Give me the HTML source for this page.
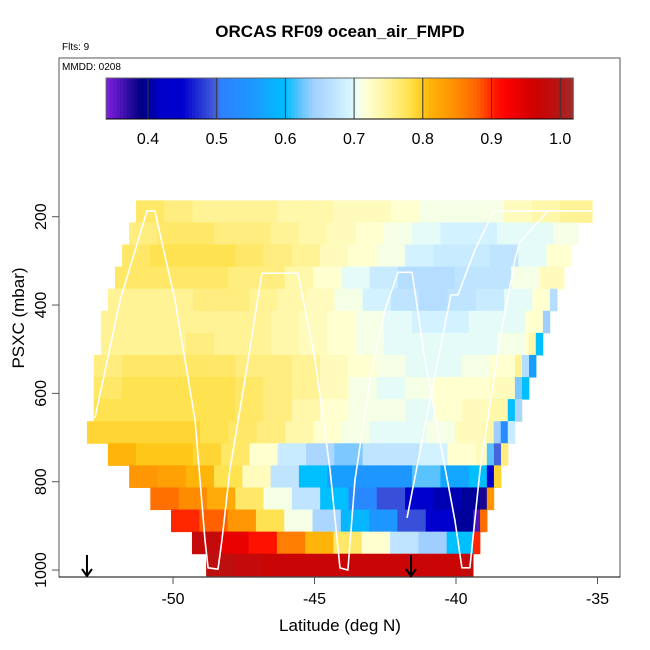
<!DOCTYPE html>
<html><head><meta charset="utf-8"><style>
html,body{margin:0;padding:0;background:#fff}
svg{display:block;font-family:"Liberation Sans",sans-serif}
</style></head><body>
<svg id="chart" width="650" height="650" viewBox="0 0 650 650" xmlns="http://www.w3.org/2000/svg">
<text x="340" y="37" text-anchor="middle" font-size="17" font-weight="bold">ORCAS RF09 ocean_air_FMPD</text>
<text x="62" y="50" font-size="10">Flts: 9</text>
<rect x="59" y="58" width="561" height="519" fill="none" stroke="#555" stroke-width="1"/>
<text x="62" y="70" font-size="10">MMDD: 0208</text>
<g id="cells"></g>
<g id="track"></g>
<g id="cbar"></g>
<g id="axes"></g>
<text x="340" y="631" text-anchor="middle" font-size="17">Latitude (deg N)</text>
<text transform="translate(24,318) rotate(-90)" text-anchor="middle" font-size="17">PSXC (mbar)</text>
</svg>
<script>
const rowTops=[163,213,263,313,363,413,463,513,563,613,663,713,763,813,863,913,963];
const rowLeft=[-51.31,-51.55,-51.8,-52.05,-52.3,-52.55,-52.55,-52.8,-52.8,-52.8,-53.04,-52.3,-51.55,-50.8,-50.07,-49.33,-48.83];
const rowRight=[-35.19,-35.69,-35.94,-36.18,-36.43,-36.68,-36.93,-37.17,-37.42,-37.67,-37.92,-38.16,-38.41,-38.66,-38.9,-39.15,-39.4];
const rowVals=[
[0.77,0.76,0.75,0.75,0.75,0.74,0.74,0.73,0.73,0.72,0.71,0.71,0.71,0.73,0.74,0.75,0.75],
[0.76,0.77,0.77,0.76,0.76,0.75,0.74,0.73,0.72,0.71,0.70,0.69,0.69,0.70,0.70,0.71,0.74],
[0.77,0.78,0.78,0.78,0.77,0.76,0.75,0.73,0.72,0.71,0.69,0.68,0.68,0.67,0.70,0.72,0.75],
[0.77,0.77,0.77,0.77,0.76,0.76,0.74,0.72,0.70,0.68,0.66,0.66,0.67,0.67,0.71,0.73,0.74],
[0.75,0.75,0.75,0.76,0.76,0.75,0.74,0.73,0.71,0.69,0.67,0.66,0.67,0.68,0.70,0.72,0.74],
[0.75,0.75,0.75,0.75,0.75,0.75,0.74,0.73,0.72,0.71,0.70,0.69,0.69,0.70,0.70,0.72,0.73],
[0.75,0.75,0.75,0.76,0.75,0.75,0.74,0.73,0.72,0.71,0.70,0.70,0.70,0.70,0.71,0.72],
[0.76,0.77,0.77,0.77,0.77,0.76,0.76,0.75,0.73,0.72,0.71,0.70,0.70,0.71,0.72,0.73],
[0.77,0.78,0.78,0.78,0.78,0.77,0.76,0.75,0.73,0.71,0.70,0.71,0.72,0.72,0.73,0.74],
[0.78,0.78,0.78,0.78,0.78,0.77,0.76,0.74,0.72,0.71,0.71,0.70,0.72,0.73,0.74,0.74],
[0.79,0.79,0.79,0.79,0.78,0.77,0.76,0.74,0.72,0.71,0.70,0.70,0.71,0.73,0.74,0.74],
[0.81,0.80,0.80,0.79,0.77,0.72,0.68,0.65,0.63,0.67,0.67,0.69,0.72,0.73],
[0.84,0.83,0.81,0.78,0.73,0.67,0.60,0.56,0.55,0.55,0.62,0.57,0.60],
[0.87,0.85,0.82,0.77,0.71,0.67,0.60,0.52,0.49,0.45,0.41,0.40],
[0.90,0.88,0.84,0.78,0.71,0.65,0.59,0.55,0.49,0.42,0.40],
[0.98,0.94,0.91,0.86,0.81,0.77,0.72,0.67,0.64,0.60],
[0.99,0.98,0.97,0.97,0.97,0.97,0.97,0.97,0.97,0.98]
];
const rowEdge=[[],[],[],[],[0.66],[0.64],[0.74,0.60],[0.75,0.66,0.56],[0.63,0.60],[0.60,0.65],[0.64,0.53,0.68],[0.62,0.50,0.76],[0.60,0.42,0.79],[0.38,0.84],[0.36,0.87],[0.90],[]];
const trackALat=[-52.76,-51.87,-50.92,-50.64,-49.93,-49.22,-48.87,-48.76,-48.41,-48.27,-47.99,-47.46,-46.86,-45.58,-44.98,-44.45,-44.10,-43.82,-43.57,-43.04,-42.51,-42.05,-41.55,-41.10,-40.57,-40.04,-39.79,-39.51,-39.15,-38.45,-37.92,-37.74,-36.75,-35.19];
const trackAP=[656,389,187,187,389,660,932,995,998,932,773,570,328,328,524,773,995,1000,796,570,411,326,326,524,706,887,995,995,773,479,298,257,187,187];
const trackBLat=[-41.73,-40.92,-40.18,-39.93,-39.33,-38.66,-36.75];
const trackBP=[882,615,377,377,275,187,187];
const arrowLat=[-53.04,-41.59];
const xTicks=[-50,-45,-40,-35];
const yTicks=[200,400,600,800,1000];
const cbTicks=[0.4,0.5,0.6,0.7,0.8,0.9,1.0];
const cbMin=0.339, cbMax=1.019;

const X=lat=>173+(lat+50)*28.3;
const Y=p=>216.7+(p-200)*0.4417;
const CB=v=>148+(v-0.4)*687;
const stops=[[0.339,[128,32,224]],[0.39,[0,0,128]],[0.42,[0,0,205]],[0.45,[0,0,205]],[0.5,[70,100,220]],[0.505,[47,128,255]],[0.55,[30,150,255]],[0.6,[0,191,255]],[0.62,[90,195,255]],[0.64,[160,207,255]],[0.67,[190,228,255]],[0.695,[215,246,255]],[0.705,[240,255,240]],[0.72,[255,255,208]],[0.75,[255,243,150]],[0.78,[255,226,80]],[0.8,[255,200,25]],[0.81,[255,180,10]],[0.85,[255,140,0]],[0.88,[255,96,0]],[0.905,[255,25,0]],[0.92,[255,0,0]],[0.96,[208,0,0]],[0.99,[190,15,15]],[1.0,[175,25,25]],[1.019,[165,42,42]]];
function col(v){
  if(v<=stops[0][0])return 'rgb('+stops[0][1]+')';
  for(let i=1;i<stops.length;i++){if(v<=stops[i][0]){const a=stops[i-1],b=stops[i];const t=(v-a[0])/(b[0]-a[0]);return 'rgb('+a[1].map((c,k)=>Math.round(c+(b[1][k]-c)*t)).join(',')+')';}}
  return 'rgb('+stops[stops.length-1][1]+')';
}
const NS='http://www.w3.org/2000/svg';
function mk(tag,attrs,parent){const e=document.createElementNS(NS,tag);for(const k in attrs)e.setAttribute(k,attrs[k]);parent.appendChild(e);return e;}
const cells=document.getElementById('cells');
rowTops.forEach((pt,r)=>{
  const y0=Y(pt),y1=Y(pt+50);
  rowVals[r].forEach((v,i)=>{
    const l=rowLeft[r]+i, rr=Math.min(rowLeft[r]+i+1,rowRight[r]);
    if(rr<=l)return;
    const e=mk('rect',{x:X(l),y:y0,width:X(rr)-X(l)+0.5,height:y1-y0+0.5,fill:col(v)},cells);
    
    
  });
  const n=rowEdge[r].length;
  rowEdge[r].forEach((v,i)=>{
    const l=rowRight[r]-(n-i)*0.25;
    const e=mk('rect',{x:X(l),y:y0,width:X(l+0.25)-X(l)+0.3,height:y1-y0+0.5,fill:col(v)},cells);
    
    
  });
});
const track=document.getElementById('track');
[[trackALat,trackAP],[trackBLat,trackBP]].forEach(([la,pp])=>{
  const e=mk('polyline',{points:la.map((l,i)=>X(l)+','+Y(pp[i])).join(' '),fill:'none',stroke:'#fff','stroke-width':1.6,'stroke-linejoin':'round'},track);
  
  
});
const axes=document.getElementById('axes');
arrowLat.forEach(l=>{
  const x=X(l);
  const g=mk('g',{},axes);
  
  
  mk('line',{x1:x,y1:555,x2:x,y2:576,stroke:'#000','stroke-width':2},g);
  mk('polyline',{points:(x-5)+',569 '+x+',576 '+(x+5)+',569',fill:'none',stroke:'#000','stroke-width':2},g);
});
mk('line',{x1:59,y1:577,x2:620,y2:577,stroke:'#000','stroke-width':1},axes);
xTicks.forEach(t=>{
  const x=X(t);
  mk('line',{x1:x,y1:577,x2:x,y2:584,stroke:'#555'},axes);
  const e=mk('text',{x:x,y:604,'text-anchor':'middle','font-size':16},axes);
  e.textContent=t;
  
  
});
yTicks.forEach(t=>{
  const y=Y(t);
  mk('line',{x1:52,y1:y,x2:59,y2:y,stroke:'#555'},axes);
  const e=mk('text',{transform:'translate(46,'+y+') rotate(-90)','text-anchor':'middle','font-size':16},axes);
  e.textContent=t;
  
  
});
const cb=document.getElementById('cbar');
for(let v=cbMin;v<cbMax;v+=0.005){
  mk('rect',{x:CB(v),y:78,width:Math.min(CB(v+0.005),CB(cbMax))-CB(v)+0.4,height:41,fill:col(v+0.0025)},cb);
}
mk('rect',{x:CB(cbMin),y:78,width:CB(cbMax)-CB(cbMin),height:41,fill:'none',stroke:'#666'},cb);
mk('line',{x1:CB(cbMin),y1:119,x2:CB(cbMax),y2:119,stroke:'#000'},cb);
cbTicks.forEach(t=>{
  mk('line',{x1:CB(t),y1:78,x2:CB(t),y2:119,stroke:'#333','stroke-width':1},cb);
  const e=mk('text',{x:CB(t),y:144,'text-anchor':'middle','font-size':16},cb);
  e.textContent=t.toFixed(1);
  
  
});
</script>
</body></html>
